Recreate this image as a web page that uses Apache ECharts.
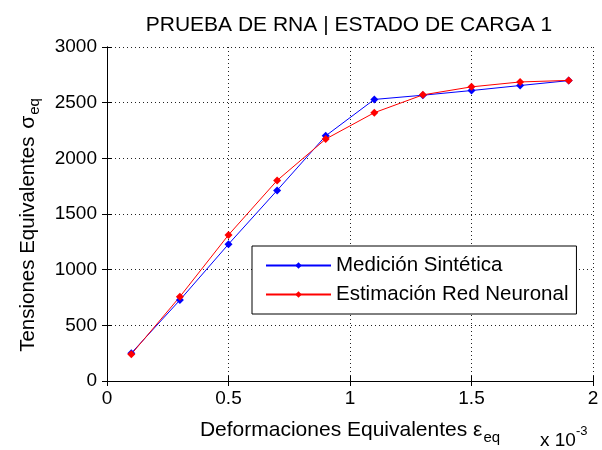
<!DOCTYPE html>
<html>
<head>
<meta charset="utf-8">
<script src="https://cdn.jsdelivr.net/npm/echarts@6/dist/echarts.min.js"></script>
<style>html,body{margin:0;padding:0;background:#fff}#c{width:602px;height:450px}</style>
</head>
<body>
<div id="c"></div>
<script>
var strain = [0.1, 0.3, 0.5, 0.7, 0.9, 1.1, 1.3, 1.5, 1.7, 1.9];
var medicion = [250, 727, 1229, 1712, 2202, 2529, 2567, 2609, 2654, 2698];
var estimacion = [240, 757, 1312, 1801, 2173, 2410, 2570, 2642, 2686, 2700];
var xTicks = [0, 0.5, 1, 1.5, 2];
var yTicks = [0, 500, 1000, 1500, 2000, 2500, 3000];
var seriesNames = ['Medición Sintética', 'Estimación Red Neuronal'];

var FONT = '"Liberation Sans", Arial, sans-serif';
function pairs(xs, ys) { return xs.map(function (x, i) { return [x, ys[i]]; }); }

var chart = echarts.init(document.getElementById('c'), null, { renderer: 'canvas' });
var tickStyle = { show: true, inside: true, length: 5, lineStyle: { color: '#000', width: 1 } };
var lineStyle = { show: true, lineStyle: { color: '#000', width: 1 } };
var grid = { show: true, type: [1, 3], color: '#222', width: 1 };

chart.setOption({
  animation: false,
  backgroundColor: '#fff',
  title: {
    text: 'PRUEBA DE RNA | ESTADO DE CARGA 1',
    left: 344, top: 10, textAlign: 'center',
    textStyle: { fontFamily: FONT, fontSize: 21, fontWeight: 'normal', color: '#000' }
  },
  grid: { left: 107, right: 9, top: 47, bottom: 66, containLabel: false },
  xAxis: [{
    type: 'value', min: xTicks[0], max: xTicks[xTicks.length - 1], interval: 0.5,
    position: 'bottom',
    axisLine: lineStyle, axisTick: tickStyle,
    axisLabel: { fontFamily: FONT, fontSize: 19, color: '#000', margin: 8,
      formatter: function (v) { return String(v); } },
    splitLine: { show: true, lineStyle: grid },
    name: '{n|Deformaciones Equivalentes ε}{sub|eq}',
    nameLocation: 'middle', nameGap: 39,
    nameTextStyle: { fontFamily: FONT, fontSize: 21, color: '#000',
      rich: {
        n: { fontFamily: FONT, fontSize: 21, color: '#000', verticalAlign: 'top', lineHeight: 22 },
        sub: { fontFamily: FONT, fontSize: 15, color: '#000', verticalAlign: 'top', lineHeight: 17, padding: [10, 0, 0, 1] }
      } }
  }, {
    type: 'value', min: xTicks[0], max: xTicks[xTicks.length - 1], interval: 0.5,
    position: 'top',
    axisLine: lineStyle, axisTick: tickStyle, axisLabel: { show: false }, splitLine: { show: false }
  }],
  yAxis: [{
    type: 'value', min: yTicks[0], max: yTicks[yTicks.length - 1], interval: 500,
    position: 'left',
    axisLine: lineStyle, axisTick: tickStyle,
    axisLabel: { fontFamily: FONT, fontSize: 19, color: '#000', margin: 10,
      formatter: function (v) { return String(v); } },
    splitLine: { show: true, lineStyle: grid },
    name: '{n|Tensiones Equivalentes }{s|σ}{sub|eq}',
    nameLocation: 'middle', nameGap: 68, nameRotate: 90,
    nameTextStyle: { fontFamily: FONT, fontSize: 20, color: '#000', padding: [0, 22, 0, 0],
      rich: {
        n: { fontFamily: FONT, fontSize: 20.5, color: '#000', verticalAlign: 'top', lineHeight: 21 },
        s: { fontFamily: FONT, fontSize: 21, color: '#000', verticalAlign: 'top', lineHeight: 21, padding: [0, 1, 0, 2] },
        sub: { fontFamily: FONT, fontSize: 15, color: '#000', verticalAlign: 'top', lineHeight: 17, padding: [9, 0, 0, 0] }
      } }
  }, {
    type: 'value', min: yTicks[0], max: yTicks[yTicks.length - 1], interval: 500,
    position: 'right',
    axisLine: lineStyle, axisTick: tickStyle, axisLabel: { show: false }, splitLine: { show: false }
  }],
  legend: {
    orient: 'vertical', left: 252, top: 246,
    padding: [9, 8, 9, 13], itemGap: 8,
    itemWidth: 65, itemHeight: 8,
    backgroundColor: '#fff', borderColor: '#000', borderWidth: 1, borderRadius: 0,
    textStyle: { fontFamily: FONT, fontSize: 20.5, color: '#000', lineHeight: 21 },
    data: seriesNames
  },
  graphic: [{
    type: 'text', left: 540, top: 425,
    style: {
      text: '{a|x 10}{b|-3}',
      rich: {
        a: { fontFamily: FONT, fontSize: 19, fill: '#000', verticalAlign: 'top', lineHeight: 20, padding: [6, 0, 0, 0] },
        b: { fontFamily: FONT, fontSize: 13, fill: '#000', verticalAlign: 'top', lineHeight: 14 }
      }
    }
  }],
  series: [{
    name: seriesNames[0], type: 'line', data: pairs(strain, medicion),
    symbol: 'diamond', symbolSize: 8, showSymbol: true,
    lineStyle: { color: '#0000ff', width: 1 }, itemStyle: { color: '#0000ff' }
  }, {
    name: seriesNames[1], type: 'line', data: pairs(strain, estimacion),
    symbol: 'diamond', symbolSize: 8, showSymbol: true,
    lineStyle: { color: '#ff0000', width: 1 }, itemStyle: { color: '#ff0000' }
  }]
});
</script>
</body>
</html>
